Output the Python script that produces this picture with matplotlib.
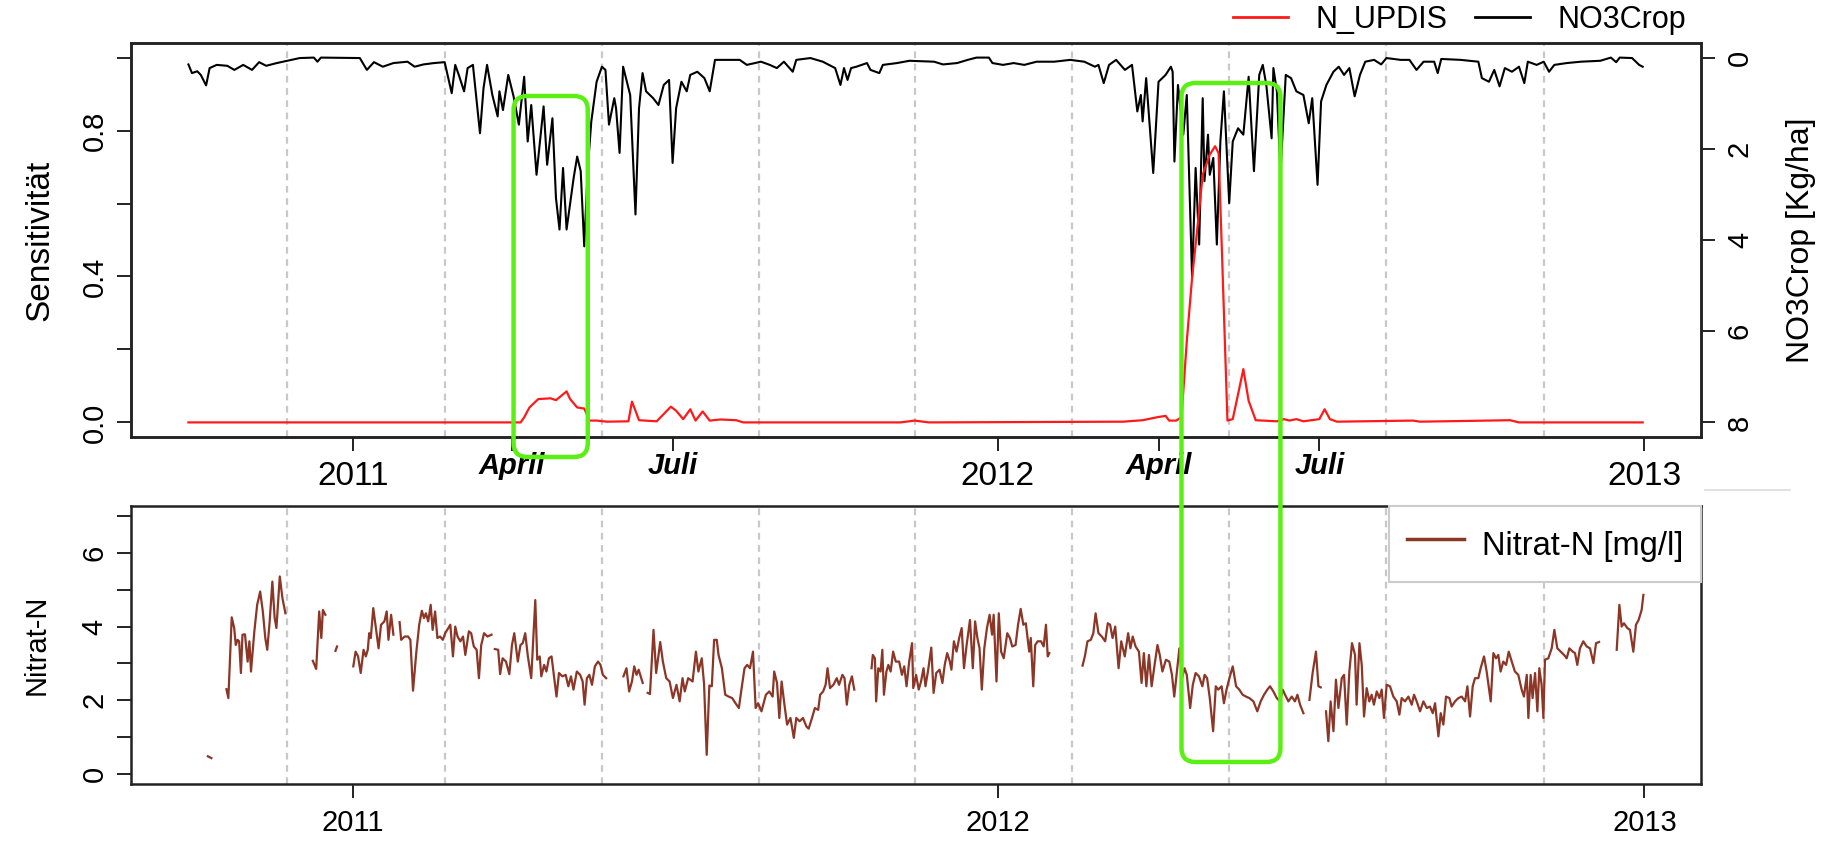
# Sensitivity of N_UPDIS vs. NO3Crop, with measured nitrate below
import matplotlib
matplotlib.use('Agg')
import matplotlib.pyplot as plt
import matplotlib.dates as mdates
from matplotlib.lines import Line2D
from matplotlib.patches import FancyBboxPatch
import numpy as np
import pandas as pd

plt.rcParams['font.family'] = ['Liberation Sans', 'DejaVu Sans']

START = pd.Timestamp('2011-01-01')

# NO3Crop [Kg/ha] (right axis, inverted), days after 2011-01-01
no3_day = [-93, -91, -88, -86, -83, -81, -77, -71, -67, -62, -57, -53, -49, -43, -37, -30, -22, -20, -18,
           4, 8, 12, 17, 23, 31, 35, 40, 46, 52, 56, 58, 60, 63, 65, 68, 72, 74, 76, 79, 82, 83, 85, 88,
           91, 94, 97, 99, 101, 104, 108, 110, 113, 115, 117, 119, 121, 125, 127, 129, 131, 133, 135, 138,
           141, 143, 145, 148, 149, 151, 153, 157, 160, 162, 164, 166, 170, 173, 176, 179, 181, 183, 186,
           189, 191, 195, 199, 202, 205, 219, 223, 231, 236, 240, 244, 249, 251, 259, 266, 273, 276, 278,
           280, 282, 285, 291, 293, 298, 300, 308, 315, 329, 334, 342, 348, 353, 360, 362, 368, 374, 380,
           387, 397, 406, 414, 420, 422, 425, 428, 432, 437, 441, 444, 446, 447, 449, 453, 456, 460, 463,
           464, 465, 467, 470, 472, 475, 477, 479, 481, 482, 484, 485, 487, 489, 491, 493, 496, 498, 501,
           504, 507, 510, 513, 515, 517, 520, 521, 523, 525, 528, 531, 534, 538, 541, 543, 546, 548, 551,
           555, 558, 561, 564, 567, 570, 573, 578, 582, 585, 593, 598, 602, 606, 612, 614, 616, 627, 637,
           639, 643, 646, 649, 652, 656, 660, 663, 665, 670, 674, 677, 680, 687, 695, 706, 712, 715, 717,
           724, 728, 730]
no3_val = [0.15, 0.34, 0.30, 0.38, 0.61, 0.23, 0.16, 0.18, 0.27, 0.16, 0.27, 0.10, 0.18, 0.12, 0.07, 0.01, 0.00, 0.09, 0.00,
           0.01, 0.27, 0.10, 0.20, 0.12, 0.09, 0.20, 0.15, 0.12, 0.10, 0.78, 0.16, 0.38, 0.74, 0.23, 0.16, 1.66, 0.67, 0.16, 0.82, 1.29, 0.74, 1.15, 0.38,
           0.85, 1.47, 0.42, 1.84, 1.04, 2.57, 1.07, 2.35, 1.33, 3.08, 3.77, 2.42, 3.77, 2.64, 2.17, 2.49, 4.14, 2.42, 1.40, 0.53,
           0.20, 0.27, 1.47, 0.89, 1.11, 2.09, 0.20, 0.82, 3.44, 1.11, 0.34, 0.74, 0.89, 1.04, 0.60, 0.49, 2.31, 1.11, 0.53,
           0.74, 0.38, 0.31, 0.45, 0.74, 0.05, 0.05, 0.16, 0.09, 0.16, 0.23, 0.09, 0.31, 0.05, 0.01, 0.09, 0.23, 0.60, 0.23,
           0.49, 0.23, 0.20, 0.12, 0.27, 0.34, 0.16, 0.12, 0.07, 0.09, 0.15, 0.12, 0.05, 0.00, 0.00, 0.12, 0.16, 0.12, 0.16,
           0.09, 0.09, 0.05, 0.09, 0.20, 0.16, 0.56, 0.16, 0.05, 0.27, 0.16, 1.18, 0.82, 1.40, 0.45, 2.53, 0.53, 0.38, 0.20,
           0.31, 2.28, 0.60, 1.69, 0.82, 4.83, 2.42, 4.10, 0.89, 2.71, 1.69, 2.57, 2.20, 4.10, 1.84, 0.74, 3.19, 1.84, 1.55,
           1.69, 0.42, 2.49, 0.38, 0.16, 0.60, 1.77, 0.23, 0.74, 2.53, 0.38, 0.45, 0.74, 0.82, 1.44, 0.89, 2.79, 0.96, 0.60,
           0.31, 0.20, 0.38, 0.23, 0.85, 0.38, 0.09, 0.05, 0.15, 0.01, 0.05, 0.05, 0.27, 0.09, 0.09, 0.34, 0.03, 0.05, 0.09,
           0.45, 0.53, 0.27, 0.63, 0.23, 0.31, 0.20, 0.56, 0.09, 0.16, 0.09, 0.31, 0.16, 0.12, 0.09, 0.07, 0.00, 0.10, 0.00,
           0.01, 0.16, 0.20]

# sensitivity of N_UPDIS (left axis)
sens_day = [-93, 95, 97, 100, 105, 112, 115, 119, 121, 123, 127, 131, 134, 138, 144, 156, 158, 160, 162, 172,
            180, 183, 187, 191, 194, 198, 202, 208, 217, 221, 310, 318, 326, 436, 447, 455, 460, 462, 466, 469,
            472, 475, 478, 481, 485, 488, 490, 492, 495, 498, 501, 504, 507, 511, 523, 527, 530, 534, 538, 547,
            550, 553, 557, 600, 604, 655, 660, 730]
sens_val = [0.0, 0.0, 0.014, 0.041, 0.064, 0.066, 0.061, 0.077, 0.085, 0.064, 0.041, 0.038, 0.005, 0.005, 0.002, 0.003, 0.057, 0.032, 0.006, 0.003,
            0.043, 0.032, 0.009, 0.036, 0.005, 0.030, 0.005, 0.008, 0.006, 0.0, 0.0, 0.005, 0.0, 0.002, 0.006, 0.014, 0.018, 0.005, 0.005, 0.014,
            0.223, 0.397, 0.533, 0.679, 0.734, 0.757, 0.738, 0.451, 0.005, 0.009, 0.077, 0.146, 0.059, 0.006, 0.003, 0.009, 0.005, 0.009, 0.003, 0.009,
            0.036, 0.009, 0.002, 0.005, 0.002, 0.006, 0.0, 0.0]

# measured Nitrat-N [mg/l]; nan marks missing days
nit_day = [-82, -80, -79,
           -71.5, -70.4, -68.5, -67.1, -66.2, -65.2, -64.3, -63.3, -62.4, -61, -59.5, -58.5, -57.6, -55.7, -54.1, -52.4,
           -50.9, -49.5, -48.4, -47.1, -45.5, -44.2, -43.2, -41.3, -39.8, -38.1, -37,
           -22.6, -20.7, -19, -17.8, -16.9, -15.5, -14,
           -9.8, -8.9, -8,
           0.3, 1.6, 3, 4.5, 6.1, 7.4, 8.5, 9.3, 10.2, 11.6, 13.1, 14.6, 16, 17.9, 19.2, 20.2, 21.7, 23, 24,
           26.5, 27.4, 29.4, 31.3, 32.6, 34.1, 36, 37.6, 39.1, 40.3, 41.4, 42.7, 44.1, 45.2, 46.6, 47.9, 49.4, 51, 52.3,
           55.2, 56.7, 58, 59.3, 60.9, 62.4, 63.7, 65.7, 67, 68.5, 70.1, 71.4, 72.7, 74.3, 76.2, 78.5, 79.5,
           80.4, 82.3, 83.4, 84.8, 86.7, 88.6, 90.1, 91.4, 93.4, 94.9, 96.2, 97.6, 99.1, 101, 102, 103.3, 104.4, 105.8,
           106.7, 108.3, 109.6, 111, 112.5, 114, 115.3, 116.7, 118.6, 120.5, 122, 123.5, 124.9, 126.8, 128.7, 130.1,
           131.2, 132.5, 133.9, 135.4, 137, 138.8, 140.2, 141.5, 143.4, 145,
           153.2, 154.9, 156.4, 158, 159.3, 160.6, 161.8, 164.1, 165.5,
           166.9, 168.2, 170.2, 171.7, 174, 175.5, 177.4, 179.3, 181.2, 183.2, 185, 186.6, 187.9, 189.8, 192.3, 194.2,
           195.6, 197.5, 198.8, 200.3, 201.8, 203.2, 204.5, 206, 207, 208.9, 210.8, 212.7, 214.7, 216.6, 218.5, 219.8,
           221.7, 223.2, 224.8, 226.5, 228, 229.4, 231.3, 233.8, 235.7, 237.6, 238.5, 240.1, 241.4, 242.7, 244.3, 245.8,
           247.7, 249.6, 251, 252.9, 254.8, 256.7, 258, 259.9, 261.5, 263.4, 264.5, 266.2, 267.6, 268.7, 270.1, 272,
           273.9, 275.2, 277.1, 278.3, 279.6, 281, 282.5, 283.8, 285,
           293.6, 294.3, 295.5, 296.2, 297.4, 298.7, 299.7, 300.6, 302, 303.1, 304.4, 305.8, 307.3, 309.2, 310.8, 312.1,
           313.4, 314.9, 316.5, 317.2, 318.8, 320.3, 321.6, 323, 324.1, 325.5, 327.4, 328.7, 330.2, 332.1, 333.7, 335,
           336.4, 337.9, 338.8, 340.2, 341.7, 343.2, 344.6, 345.9, 347.4, 349.3, 350.9, 352.2, 353.5, 354.7, 356, 357.4,
           358.9, 360.4, 361.8, 362.7, 364.3, 365.6, 366.9, 368.4, 370.4, 371.9, 373.2, 375.1, 376.5, 378, 379.5, 380.9,
           382.8, 383.7, 385.1, 386.2, 387.6, 389.5, 391, 392.3, 393.3, 394.2, 395,
           413, 414.3, 415.8, 417.7, 419.1, 420.4, 422, 423.9, 425.8, 427.3, 428.6, 430, 431.5, 433.4, 434.9, 436.9,
           438.8, 440.1, 441.4, 443, 444.9, 446.4, 447.7, 449.1, 450.6, 452.1, 453.5, 455.4, 456.7, 458.2, 460.2, 462.1,
           463.6, 464.9, 466.3, 467.8, 469.3, 470.7, 472, 473.9, 475.4, 477, 478.9, 480.8, 482.1, 483.5, 485, 486.9,
           488.4, 489.8, 491.7, 493, 494.5, 496.1, 498, 499.9, 501.7, 503.6, 505.5, 507.4, 509.7, 511.9, 513.8, 515.7,
           517.6, 519.1, 521, 522.9, 524.8, 526.3, 527.6, 529.5, 531.4, 533.2, 534.6, 536.1, 538, 539.5,
           541.4, 543.2, 545.1, 546.5, 547.8, 549,
           550.8, 552.1, 553.4, 555, 556.4, 557.8, 559.7, 561, 562.5, 564, 565.5, 567.2, 568.1, 569.7, 571, 572.3,
           573.8, 575.3, 576.6, 577.9, 579.5, 581, 582.3, 583.6, 585.1, 587, 588.9, 590.8, 592.3, 593.6, 595.5, 597.4,
           599.3, 600.6, 602.1, 604, 605.9, 607.8, 609.6, 611.2, 612.5, 614.4, 615.7, 617.2, 618.7, 620.6, 621.9, 623.8,
           625.7, 627.6, 629.5, 630.8, 632.3, 633.8, 635.1, 637, 638.3, 640.2, 641.7, 642.7, 644, 645.5, 647, 648.3,
           649.6, 651.1, 652.7, 654.2, 655.9, 657.7, 659.6, 661.5, 662.8, 664.4, 665.3, 666.6, 667.7, 669.1, 670.4, 671.5,
           672.8, 673.8, 674.7, 676.6, 678.5, 680, 681.7, 683.6, 685.5, 687, 688.5, 690.4, 691.7, 693, 694.5, 696.4,
           698.3, 700.2, 702.1, 703.6, 705.3, 707,
           715.3, 716.8, 718.1, 719.4, 721.3, 722.8, 724.7, 726.2, 727.7, 729.4, 730.4]
nit_val = [0.48, 0.43, np.nan,
           2.30, 2.06, 4.25, 3.96, 3.50, 3.64, 3.60, 2.74, 3.78, 3.79, 3.05, 3.60, 2.78, 3.87, 4.59, 4.95,
           4.41, 3.69, 3.37, 4.09, 5.22, 4.23, 3.96, 5.36, 4.77, 4.36, np.nan,
           3.07, 2.85, 4.41, 3.69, 4.45, 4.32, np.nan,
           3.34, 3.46, np.nan,
           2.92, 3.32, 3.19, 2.74, 3.37, 3.19, 3.37, 3.82, 3.69, 4.50, 3.96, 3.41, 4.05, 4.14, 4.41, 3.64, 4.32, 3.78, np.nan,
           4.12, 3.64, 3.73, 3.73, 3.64, 2.26, 3.32, 4.05, 4.43, 4.23, 4.36, 4.14, 4.59, 3.91, 4.41, 3.69, 3.73, 3.64, 3.82,
           4.05, 3.19, 4.00, 3.73, 3.60, 3.73, 3.23, 3.87, 3.82, 3.46, 3.37, 2.60, 3.50, 3.82, 3.73, 3.78, np.nan,
           3.39, 3.37, 2.71, 3.14, 3.05, 2.71, 3.50, 3.82, 3.05, 3.50, 3.55, 3.82, 3.19, 2.60, 3.50, 4.72, 3.10, 3.19,
           2.65, 2.96, 2.78, 3.14, 3.19, 2.60, 2.10, 2.74, 2.65, 2.69, 2.38, 2.65, 2.29, 2.78, 2.69, 2.51,
           1.88, 2.60, 2.69, 2.42, 2.92, 3.05, 2.96, 2.69, 2.60, np.nan,
           2.65, 2.87, 2.24, 2.51, 2.92, 2.69, 2.83, 2.47, np.nan,
           2.20, 2.17, 3.91, 2.74, 3.58, 3.05, 2.60, 2.51, 2.06, 2.42, 1.97, 2.60, 2.24, 2.60, 2.51, 3.32,
           2.78, 3.14, 2.45, 0.52, 2.40, 2.38, 3.64, 3.64, 3.23, 2.87, 2.15, 2.10, 2.06, 1.92, 1.79, 2.24,
           2.87, 2.96, 2.87, 3.32, 1.79, 1.92, 1.70, 2.15, 2.24, 2.10, 2.78, 2.47, 1.52, 2.51, 1.88, 1.34,
           1.52, 0.98, 1.52, 1.43, 1.52, 1.29, 1.23, 1.52, 1.79, 1.74, 2.15, 2.24, 2.42, 2.87, 2.33, 2.42,
           2.60, 2.42, 2.69, 2.60, 1.88, 2.42, 2.65, 2.29, np.nan,
           2.87, 3.23, 3.14, 1.97, 2.87, 2.78, 3.37, 2.15, 2.78, 2.96, 2.78, 3.32, 3.05, 3.05, 2.69, 2.92,
           2.38, 3.05, 3.55, 2.33, 2.69, 2.29, 2.51, 2.87, 2.38, 2.78, 3.43, 2.20, 2.74, 2.83, 2.47, 2.96,
           3.28, 3.05, 2.83, 3.60, 3.32, 3.69, 3.96, 2.87, 3.50, 4.18, 2.87, 4.14, 3.69, 3.41, 2.29, 3.41,
           3.96, 4.32, 3.78, 4.32, 2.51, 4.36, 3.32, 3.14, 3.82, 3.69, 3.46, 3.50, 4.05, 4.48, 4.05, 4.09,
           3.32, 3.69, 2.38, 3.50, 3.60, 3.60, 3.46, 4.05, 3.19, 3.28, np.nan,
           2.94, 3.19, 3.60, 3.64, 3.82, 4.36, 3.82, 3.73, 3.60, 4.09, 4.05, 3.69, 4.00, 2.87, 3.60, 3.19,
           3.82, 3.41, 3.73, 3.46, 3.32, 2.47, 3.28, 2.38, 3.23, 2.38, 2.87, 3.50, 3.23, 2.78, 3.10, 3.05,
           2.69, 2.10, 2.74, 3.41, 2.60, 2.87, 2.69, 1.79, 2.42, 2.74, 2.65, 2.38, 2.69, 2.60, 2.06, 1.16,
           2.38, 2.29, 2.38, 1.92, 2.29, 2.60, 2.92, 2.38, 2.29, 2.15, 2.10, 2.06, 1.97, 1.70, 1.97, 2.15,
           2.29, 2.38, 2.24, 2.06, 1.97, 2.29, 2.15, 1.97, 2.10, 1.97, 2.15, 1.88, 1.65, np.nan,
           2.01, 2.74, 3.32, 2.38, 2.35, np.nan,
           1.70, 0.89, 1.97, 1.16, 2.56, 1.79, 2.60, 2.69, 1.34, 2.78, 3.55, 3.23, 1.88, 3.55, 2.96, 1.56,
           2.33, 1.97, 2.15, 1.88, 2.24, 2.06, 2.29, 1.52, 2.42, 2.38, 2.10, 1.97, 1.61, 2.06, 1.97, 2.10,
           1.88, 2.15, 1.97, 1.70, 1.97, 1.79, 1.83, 1.65, 1.92, 1.02, 1.65, 1.34, 2.10, 2.06, 1.83, 1.97,
           2.06, 2.10, 1.97, 2.38, 1.56, 2.38, 2.60, 2.60, 2.87, 3.19, 2.78, 2.42, 1.97, 3.28, 3.14, 3.23,
           2.78, 3.05, 2.96, 3.32, 3.05, 2.78, 2.69, 2.29, 2.10, 2.69, 1.52, 2.69, 2.06, 2.74, 1.70, 2.87,
           2.42, 1.52, 3.10, 3.14, 3.41, 3.91, 3.41, 3.32, 3.23, 3.14, 3.41, 3.32, 3.28, 2.96, 3.41, 3.60,
           3.46, 3.41, 3.01, 3.55, 3.58, np.nan,
           3.37, 4.59, 4.00, 4.09, 3.96, 3.91, 3.32, 4.05, 4.18, 4.45, 4.86]

# vertical dashed guide lines and highlighted periods
guide_day = [-37, 52, 141, 230, 318, 407, 496, 585, 674]
highlight = [('2011-04-02', '2011-05-14'), ('2012-04-14', '2012-06-09')]
highlight_px = [(96, 457), (83, 762)]  # top/bottom of each frame, pixels from top

year_ticks = ['2011-01-01', '2012-01-01', '2013-01-01']
year_labels = ['2011', '2012', '2013']
season_ticks = ['2011-04-01', '2011-07-01', '2012-04-01', '2012-07-01']
season_labels = ['April', 'Juli', 'April', 'Juli']


def to_date(days):
    return START + pd.to_timedelta(np.asarray(days, dtype=float), unit='D')


W, H = 1829, 842
fig = plt.figure(figsize=(W / 100, H / 100), dpi=100)
ax1 = fig.add_axes([131 / W, 1 - 437 / H, 1570 / W, 394 / H])
ax2 = ax1.twinx()
ax3 = fig.add_axes([131 / W, 1 - 784.3 / H, 1570 / W, 278.6 / H])

ax1.set_zorder(ax2.get_zorder() + 1)
ax1.patch.set_visible(False)

grid_kw = dict(color='#c8c8c8', lw=1.6, ls=(0, (3, 2.5)), zorder=0)
for d in to_date(guide_day):
    ax2.axvline(d, **grid_kw)
    ax3.axvline(d, **grid_kw)

ax2.plot(to_date(no3_day), no3_val, color='black', lw=1.5)
ax1.plot(to_date(sens_day), sens_val, color='#ff1a1a', lw=1.6)
ax3.plot(to_date(nit_day), nit_val, color='#8b3626', lw=1.6, label='Nitrat-N [mg/l]')

xmin, xmax = to_date([-125.5, 763])
for ax in (ax1, ax3):
    ax.set_xlim(xmin, xmax)
ax1.set_ylim(-0.04, 1.04)
ax2.set_ylim(8.32, -0.32)
ax3.set_ylim(-0.28, 7.28)

tick_kw = dict(direction='out', length=10, width=1.4, color='#222222', labelsize=21)
xtick_kw = {k: v for k, v in tick_kw.items() if k != 'labelsize'}

# upper panel axes
ax1.set_yticks(np.arange(0, 1.01, 0.2))
ax1.set_yticklabels(['0.0', '', '0.4', '', '0.8', ''], rotation=90, va='center')
ax1.tick_params(axis='y', pad=6, **tick_kw)
ax2.set_yticks([0, 2, 4, 6, 8])
ax2.set_yticklabels(['0', '2', '4', '6', '8'], rotation=90, va='center')
ax2.tick_params(axis='y', pad=8, **tick_kw)

ax1.set_xticks(pd.to_datetime(year_ticks))
ax1.set_xticklabels(year_labels, fontsize=24)
ax1.set_xticks(pd.to_datetime(season_ticks), minor=True)
ax1.set_xticklabels(season_labels, minor=True, fontsize=21, fontweight='bold', fontstyle='italic')
ax1.tick_params(axis='x', which='major', pad=7, **xtick_kw)
ax1.tick_params(axis='x', which='minor', pad=1, **xtick_kw)

ax1.set_ylabel('Sensitivität', fontsize=24)
ax1.yaxis.set_label_coords(-0.048, 0.5)
ax2.set_ylabel('NO3Crop [Kg/ha]', fontsize=23, rotation=90)
ax2.yaxis.set_label_coords(1.054, 0.5)

# lower panel axes
ax3.set_yticks(range(8))
ax3.set_yticklabels(['0', '', '2', '', '4', '', '6', ''], rotation=90, va='center')
ax3.tick_params(axis='y', pad=6, **tick_kw)
ax3.set_xticks(pd.to_datetime(year_ticks))
ax3.set_xticklabels(year_labels)
ax3.tick_params(axis='x', pad=8, **tick_kw)
ax3.set_ylabel('Nitrat-N', fontsize=21)
ax3.yaxis.set_label_coords(-0.051, 0.5)

for ax in (ax1, ax2, ax3):
    for sp in ax.spines.values():
        sp.set_linewidth(1.8)
        sp.set_color('#222222')

# legends
handles = [Line2D([], [], color='#ff1a1a', lw=2), Line2D([], [], color='black', lw=2)]
fig.legend(handles, ['N_UPDIS', 'NO3Crop'], loc='center right', bbox_to_anchor=(1686 / W, 1 - 20 / H),
           ncol=2, frameon=False, fontsize=22, handlelength=1.8, handletextpad=0.9,
           columnspacing=0.9, borderpad=0, borderaxespad=0)
leg = ax3.legend(loc='upper right', bbox_to_anchor=(1, 1), fontsize=23.5, handlelength=1.75,
                 handleheight=1.55, handletextpad=0.55, borderpad=0.55, borderaxespad=0,
                 fancybox=False, edgecolor='#cccccc', framealpha=1)
leg.get_frame().set_linewidth(1.5)
for line in leg.get_lines():
    line.set_linewidth(2.5)

# green frames around the two spring periods
for (d0, d1), (top, bot) in zip(highlight, highlight_px):
    x0 = ax1.transData.transform((mdates.date2num(pd.Timestamp(d0)), 0))[0] / fig.dpi
    x1 = ax1.transData.transform((mdates.date2num(pd.Timestamp(d1)), 0))[0] / fig.dpi
    box = FancyBboxPatch((x0, (H - bot) / 100), x1 - x0, (bot - top) / 100,
                         boxstyle='round,pad=0,rounding_size=0.14', transform=fig.dpi_scale_trans,
                         fill=False, edgecolor='#5af014', lw=3.2, zorder=10)
    fig.add_artist(box)

fig.add_artist(Line2D([1705 / W, 1790 / W], [1 - 490 / H] * 2, color='#dddddd', lw=1.2))

fig.savefig('out.png', dpi=100)
